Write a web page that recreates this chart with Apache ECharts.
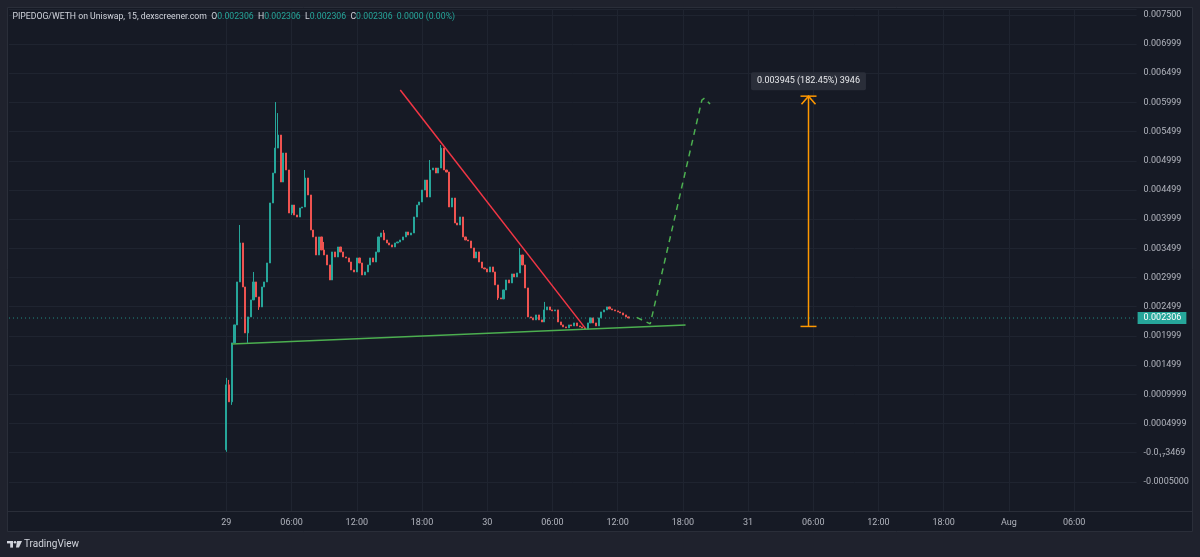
<!DOCTYPE html>
<html>
<head>
<meta charset="utf-8">
<title>PIPEDOG/WETH</title>
<script src="https://cdn.jsdelivr.net/npm/echarts@6/dist/echarts.min.js"></script>
<style>
  html, body { margin: 0; padding: 0; background: #1f222d; }
  #chart { width: 1200px; height: 557px; }
</style>
</head>
<body>
<div id="chart"></div>
<script>
// 15 min slots on the time axis, first candle sits on 29 Jul 00:00
const slotStart = Date.UTC(2024, 6, 28, 4, 0);
const slotCount = 416;
const firstBarSlot = 80;

// candles: open = previous close, first open given
const firstOpen = 0.000048;
const closes = [
  0.001161, 0.000870, 0.001880, 0.002188, 0.002924, 0.003592, 0.002838, 0.002051, 0.002325, 0.002616,
  0.002924, 0.002667, 0.002496, 0.002838, 0.002924, 0.003249, 0.004277, 0.004790, 0.005218, 0.005441,
  0.004636, 0.005133, 0.004842, 0.004105, 0.004242, 0.004071, 0.004037, 0.004191, 0.004208, 0.004705,
  0.004414, 0.003814, 0.003695, 0.003386, 0.003695, 0.003472, 0.003386, 0.003215, 0.002958, 0.003438,
  0.003352, 0.003523, 0.003438, 0.003352, 0.003335, 0.003266, 0.003129, 0.003095, 0.003335, 0.003249,
  0.003044, 0.003095, 0.003215, 0.003335, 0.003266, 0.003438, 0.003695, 0.003763, 0.003643, 0.003592,
  0.003558, 0.003523, 0.003592, 0.003609, 0.003643, 0.003695, 0.003780, 0.003729, 0.003763, 0.004037,
  0.004242, 0.004294, 0.004499, 0.004670, 0.004379, 0.004842, 0.004876, 0.004790, 0.004876, 0.005218,
  0.004842, 0.004807, 0.004208, 0.004362, 0.003934, 0.003900, 0.004037, 0.003695, 0.003643, 0.003626,
  0.003506, 0.003335, 0.003438, 0.003266, 0.003164, 0.003147, 0.003095, 0.003181, 0.003095, 0.002873,
  0.002650, 0.002633, 0.002787, 0.002958, 0.002907, 0.003061, 0.003010, 0.003078, 0.003386, 0.003215,
  0.002821, 0.002325, 0.002308, 0.002274, 0.002359, 0.002274, 0.002239, 0.002445, 0.002496, 0.002445,
  0.002428, 0.002445, 0.002239, 0.002188, 0.002154, 0.002137, 0.002188, 0.002171, 0.002222, 0.002171,
  0.002154, 0.002137, 0.002119, 0.002222, 0.002308, 0.002222, 0.002171, 0.002308, 0.002410, 0.002445,
  0.002496, 0.002462, 0.002445, 0.002428, 0.002410, 0.002393, 0.002359, 0.002325, 0.002306
];
// [candle index, price] where the wick goes past the body
const wickHighs = [[0, 0.001281], [1, 0.001246], [5, 0.003900], [10, 0.003095], [18, 0.006006], [19, 0.005817],
  [29, 0.004842], [36, 0.003609], [58, 0.003814], [75, 0.005013], [79, 0.005270], [108, 0.003506], [117, 0.002582]];
const wickLows = [[0, 0.000014], [2, 0.000818], [8, 0.001880], [12, 0.002445], [24, 0.004071], [100, 0.002616]];

const xTickLabels = ['29', '06:00', '12:00', '18:00', '30', '06:00', '12:00', '18:00', '31', '06:00', '12:00', '18:00', 'Aug', '06:00'];
const yTickLabels = ['-0.0005000', '-0.0\u2081\u20873469', '0.0004999', '0.0009999', '0.001499', '0.001999', '0.002499',
  '0.002999', '0.003499', '0.003999', '0.004499', '0.004999', '0.005499', '0.005999', '0.006499', '0.006999', '0.007500'];

const lastPrice = 0.002306;
const headerOHLC = [0.002306, 0.002306, 0.002306, 0.002306];

// drawings: [slot time, price]
const resistLine = [['2024-07-29 16:00', 0.006211], ['2024-07-30 09:00', 0.002137]];
const supportLine = [['2024-07-29 00:30', 0.001863], ['2024-07-30 18:15', 0.002188]];
const projection = [['2024-07-30 13:45', 0.002316], ['2024-07-30 15:00', 0.002205], ['2024-07-30 19:45', 0.006040],
  ['2024-07-30 20:00', 0.006074], ['2024-07-30 20:30', 0.005971]];
const measureSlot = '2024-07-31 05:30';
const measureFrom = 0.002162;
const measureTo = 0.006107;
const measureText = '0.003945 (182.45%) 3946';

const upColor = '#26a69a';
const downColor = '#ef5350';
const labelFont = 'Roboto, "Noto Sans", sans-serif';

const slots = [];
for (let i = 0; i < slotCount; i++) {
  slots.push(new Date(slotStart + i * 900000).toISOString().slice(0, 16).replace('T', ' '));
}

const candleRows = [];
let prev = firstOpen;
closes.forEach((c, i) => {
  candleRows.push([slots[firstBarSlot + i], prev, c, Math.min(prev, c), Math.max(prev, c)]);
  prev = c;
});
wickHighs.forEach(([i, h]) => { candleRows[i][4] = h; });
wickLows.forEach(([i, l]) => { candleRows[i][3] = l; });

const isTimeTick = (idx) => idx >= firstBarSlot && (idx - firstBarSlot) % 24 === 0;

const chart = echarts.init(document.getElementById('chart'));

const option = {
  animation: false,
  backgroundColor: '#1f222d',
  grid: { left: 9, right: 63.4, top: 9, bottom: 46 },
  xAxis: {
    type: 'category',
    data: slots,
    boundaryGap: false,
    axisLine: { show: false },
    axisTick: { show: false },
    axisLabel: {
      interval: isTimeTick,
      formatter: (v, idx) => xTickLabels[(idx - firstBarSlot) / 24] || '',
      color: '#b2b5be',
      fontSize: 9,
      fontFamily: labelFont,
      margin: 7
    },
    splitLine: { show: true, interval: isTimeTick, lineStyle: { color: '#1f2430', width: 1 } }
  },
  yAxis: {
    type: 'value',
    position: 'right',
    min: -0.001,
    max: 0.0076,
    interval: 0.0005,
    axisLine: { show: false },
    axisTick: { show: false },
    axisLabel: {
      color: '#b2b5be',
      fontSize: 9,
      fontFamily: labelFont,
      margin: 7,
      formatter: (v) => {
        const k = Math.round((v + 0.0005) / 0.0005);
        if (Math.abs(v - (k * 0.0005 - 0.0005)) > 1e-9) return '';
        return yTickLabels[k] || '';
      }
    },
    splitLine: { lineStyle: { color: '#1f2430', width: 1 } }
  },
  series: [
    {
      // last price line, dotted across the pane
      type: 'line',
      data: [[slots[0], lastPrice], [slots[slotCount - 1], lastPrice]],
      symbol: 'none', silent: true,
      lineStyle: { color: upColor, type: [1, 3], width: 1, opacity: 0.8 }
    },
    {
      type: 'candlestick',
      data: candleRows,
      encode: { x: 0, y: [1, 2, 3, 4] },
      barWidth: 1.6,
      itemStyle: { color: upColor, color0: downColor, borderColor: upColor, borderColor0: downColor, borderWidth: 1 }
    },
    {
      type: 'line', data: resistLine, symbol: 'none', silent: true,
      lineStyle: { color: '#f23645', width: 1.5 }
    },
    {
      type: 'line', data: supportLine, symbol: 'none', silent: true,
      lineStyle: { color: '#4caf50', width: 1.5 }
    },
    {
      type: 'line', data: projection, symbol: 'none', silent: true,
      lineStyle: { color: '#4caf50', width: 1.5, type: [6, 5] }
    }
  ]
};

chart.setOption(option);

// measure tool, price badge, header and frame, placed from the chart's own scales
const slotIdx = slots.indexOf(measureSlot);
const pFrom = chart.convertToPixel({ gridIndex: 0 }, [slotIdx, measureFrom]);
const pTo = chart.convertToPixel({ gridIndex: 0 }, [slotIdx, measureTo]);
const pLast = chart.convertToPixel({ gridIndex: 0 }, [slotCount - 1, lastPrice]);
const mx = Math.round(pFrom[0]) + 0.5;
const orange = '#ff9800';
const orangeLine = { stroke: orange, lineWidth: 1.5 };

const hv = headerOHLC.map(v => v.toFixed(6));
const hFont = '8.7px ' + labelFont;

chart.setOption({
  graphic: [
    { type: 'rect', z: -10, shape: { x: 7.5, y: 7.5, width: 1185, height: 524 }, style: { fill: '#161a25', stroke: '#2a2e39', lineWidth: 1 } },
    { type: 'line', shape: { x1: 8, y1: 511.5, x2: 1192, y2: 511.5 }, style: { stroke: '#2a2e39', lineWidth: 1 } },
    {
      type: 'text', x: pLast[0] + 1, y: pLast[1], z: 10,
      style: {
        text: lastPrice.toFixed(6), verticalAlign: 'middle',
        fill: '#ffffff', font: '9px ' + labelFont,
        backgroundColor: upColor, padding: [2, 5, 1, 6]
      }
    },
    { type: 'line', shape: { x1: mx, y1: pFrom[1], x2: mx, y2: pTo[1] }, style: orangeLine },
    { type: 'line', shape: { x1: mx - 8, y1: pFrom[1], x2: mx + 8, y2: pFrom[1] }, style: orangeLine },
    { type: 'line', shape: { x1: mx - 8, y1: pTo[1], x2: mx + 8, y2: pTo[1] }, style: orangeLine },
    { type: 'polyline', shape: { points: [[mx - 7, pTo[1] + 8], [mx, pTo[1]], [mx + 7, pTo[1] + 8]] }, style: { stroke: orange, lineWidth: 1.5, fill: null } },
    {
      type: 'text', x: mx, y: pTo[1] - 15,
      style: {
        text: measureText, align: 'center', verticalAlign: 'middle',
        fill: '#e8e9ec', font: '9px ' + labelFont,
        backgroundColor: '#2a2e39', padding: [5, 6, 4, 6], borderRadius: 2
      }
    },
    {
      type: 'text', x: 12.5, y: 17,
      style: {
        text: '{t|PIPEDOG/WETH on Uniswap, 15, dexscreener.com}  {k|O}{v|' + hv[0] + '}  {k|H}{v|' + hv[1] +
          '}  {k|L}{v|' + hv[2] + '}  {k|C}{v|' + hv[3] + '}  {v|0.0000 (0.00%)}',
        verticalAlign: 'middle',
        font: hFont,
        rich: {
          t: { fill: '#d1d4dc', font: hFont },
          k: { fill: '#d1d4dc', font: hFont },
          v: { fill: upColor, font: hFont }
        }
      }
    },
    // TradingView logo
    { type: 'rect', shape: { x: 7, y: 541, width: 6, height: 2.4 }, style: { fill: '#d1d4dc' } },
    { type: 'rect', shape: { x: 10.2, y: 541, width: 2.8, height: 6.6 }, style: { fill: '#d1d4dc' } },
    { type: 'circle', shape: { cx: 15, cy: 542.3, r: 1.3 }, style: { fill: '#d1d4dc' } },
    { type: 'polygon', shape: { points: [[17, 541], [22, 541], [19, 547.6], [16, 547.6]] }, style: { fill: '#d1d4dc' } },
    {
      type: 'text', x: 24, y: 544.5,
      style: { text: 'TradingView', verticalAlign: 'middle', fill: '#d1d4dc', font: '10px ' + labelFont }
    }
  ]
});
</script>
</body>
</html>
